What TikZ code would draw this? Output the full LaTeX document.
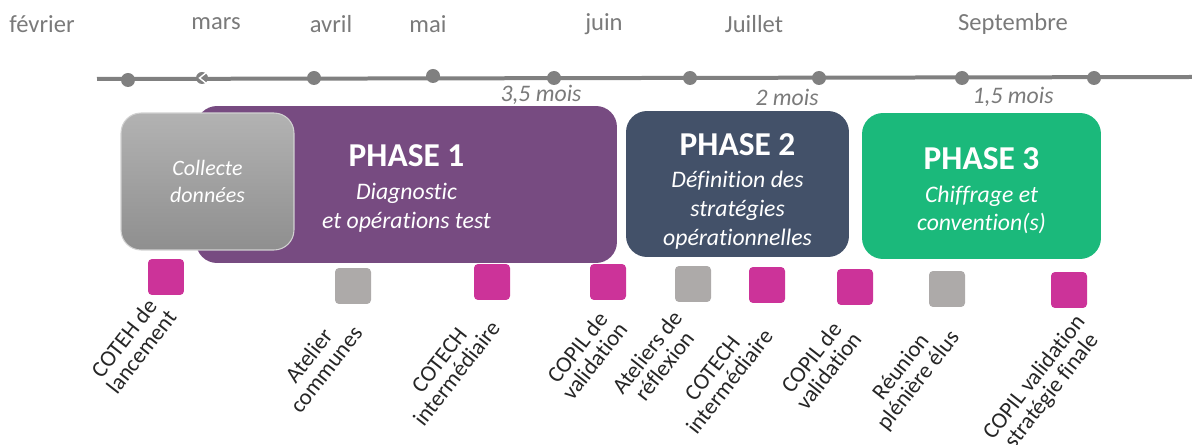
\documentclass[tikz,border=0pt]{standalone}
\usepackage{fontspec}
\setmainfont{Carlito}[Ligatures=NoCommon]

\definecolor{axegris}{HTML}{808080}
\definecolor{moisgris}{HTML}{7A7A7A}
\definecolor{violet1}{HTML}{774B81}
\definecolor{bleu2}{HTML}{435169}
\definecolor{vert3}{HTML}{1BB97B}
\definecolor{magenta1}{HTML}{CC3399}
\definecolor{grisjalon}{HTML}{ADAAA9}

\newcommand{\phasetitre}[1]{{\fontsize{19}{19}\selectfont\bfseries\upshape #1}}

\tikzset{
  mois/.style={text=moisgris, font=\fontsize{14}{16}\selectfont},
  duree/.style={text=moisgris, font=\fontsize{13.5}{16}\selectfont\itshape},
  point/.style={circle, fill=axegris, inner sep=0, minimum size=0.28cm},
  phase/.style={rounded corners=0.42cm, inner sep=0},
  phasetexte/.style={text=white, align=center, inner sep=0,
    font=\fontsize{13.5}{16.4}\selectfont\itshape},
  jalon/.style={rounded corners=0.08cm, minimum size=0.72cm, inner sep=0},
  legende/.style={rotate=52, anchor=east, align=center, inner sep=0,
    font=\fontsize{13}{12.5}\selectfont, text=black!85}
}

\begin{document}
\begin{tikzpicture}[x=0.02cm, y=-0.02cm]
  \useasboundingbox (0,0) rectangle (1192,445);

  % axe du temps
  \coordinate (axeA) at (97,79);
  \coordinate (axeB) at (1192,77);
  \draw [axegris, line width=0.08cm] (axeA) -- (axeB);
  \foreach \x/\y [count=\i] in {128/80, 314/78, 433/76, 554/78, 690/78, 819/78, 962/78, 1094/78}
    \node [point] (t\i) at (\x,\y) {};
  \node [point, minimum size=0.24cm] (t0) at (202,78) {};
  \draw [white, line width=0.8pt] (206.5,72.5) -- (199.5,78) -- (206.5,83.5);

  \foreach \x/\m [count=\i] in {42/février, 216/mars, 331/avril, 428/mai, 604/juin, 754/Juillet, 1013/Septembre}
    \node [mois] (m\i) at (\x,24) {\m};

  \node [duree] (d1) at (541,95) {3,5 mois};
  \node [duree] (d2) at (787,97) {2 mois};
  \node [duree] (d3) at (1013,97) {1,5 mois};

  % phases
  \node [phase, fill=violet1, minimum width=8.42cm, minimum height=3.14cm] (p1) at (406.5,184.5) {};
  \node [phase, rounded corners=0.4cm, draw=black!18, line width=0.6pt, top color=black!30,
    bottom color=black!44, minimum width=3.46cm, minimum height=2.74cm] (col) at (207.5,181.5) {};
  \node [phasetexte, font=\fontsize{12.5}{15.8}\selectfont\itshape] (colt) at (col.center) {Collecte\\données};
  \node [phasetexte] (p1t) at ([yshift=-0.08cm]p1.center)
    {\phasetitre{PHASE 1}\\[2pt]Diagnostic\\et opérations test};

  \node [phase, fill=bleu2, minimum width=4.46cm, minimum height=2.92cm] (p2) at (737.5,184) {};
  \node [phasetexte] (p2t) at ([yshift=-0.15cm]p2.center)
    {\phasetitre{PHASE 2}\\[2pt]Définition des\\stratégies\\opérationnelles};

  \node [phase, fill=vert3, minimum width=4.78cm, minimum height=2.92cm] (p3) at (981.5,186) {};
  \node [phasetexte] (p3t) at ([yshift=-0.1cm]p3.center)
    {\phasetitre{PHASE 3}\\[2pt]Chiffrage et\\convention(s)};

  % jalons
  \foreach \x/\y/\c [count=\i] in {166/277/magenta1, 353/286/grisjalon, 492/282/magenta1,
      608/282/magenta1, 693/284/grisjalon, 767/285/magenta1, 855/287/magenta1,
      947/289/grisjalon, 1069/290/magenta1}
    \node [jalon, fill=\c] (j\i) at (\x,\y) {};

  \foreach \x/\y/\t [count=\i] in {163/306/{COTEH de\\lancement}, 349/322/{Atelier\\communes},
      487/317/{COTECH\\intermédiaire}, 614/318/{COPIL de\\validation},
      686/320/{Ateliers de\\réflexion}, 760/325/{COTECH\\intermédiaire},
      848/328/{COPIL de\\validation}, 947/327/{Réunion\\plénière élus},
      1090/325/{COPIL validation\\stratégie finale}}
    \node [legende] (l\i) at (\x,\y) {\t};
\end{tikzpicture}
\end{document}
